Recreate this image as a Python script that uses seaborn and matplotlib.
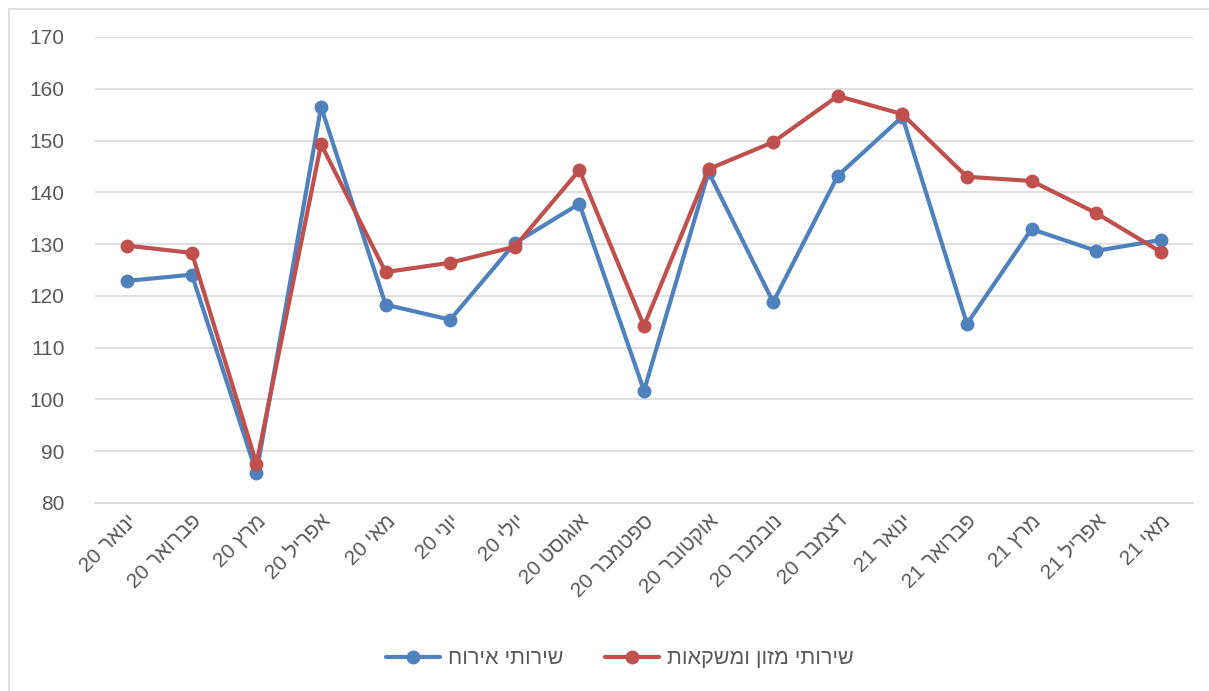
import re
import numpy as np
import pandas as pd
import matplotlib
matplotlib.use("Agg")
import matplotlib.pyplot as plt
from matplotlib.lines import Line2D
import seaborn as sns

months = ["ינואר 20", "פברואר 20", "מרץ 20", "אפריל 20", "מאי 20", "יוני 20",
          "יולי 20", "אוגוסט 20", "ספטמבר 20", "אוקטובר 20", "נובמבר 20",
          "דצמבר 20", "ינואר 21", "פברואר 21", "מרץ 21", "אפריל 21", "מאי 21"]
lodging = [122.9, 124.1, 85.8, 156.5, 118.3, 115.4, 130.2, 137.8, 101.7, 143.9,
           118.8, 143.2, 154.6, 114.6, 132.9, 128.7, 130.8]
food = [129.7, 128.3, 87.6, 149.3, 124.6, 126.4, 129.5, 144.3, 114.2, 144.5,
        149.7, 158.6, 155.1, 143.0, 142.2, 136.0, 128.5]
series_names = ["שירותי אירוח", "שירותי מזון ומשקאות"]
colors = ["#4F81BD", "#C0504D"]


def visual(s):
    """Simple bidi: reverse Hebrew string, keep digit runs in LTR order."""
    r = s[::-1]
    return re.sub(r"\d+", lambda m: m.group(0)[::-1], r)


sns.set_theme(style="white")
plt.rcParams["font.family"] = ["Liberation Sans", "DejaVu Sans"]

fig = plt.figure(figsize=(12.09, 6.91), dpi=100)
ax = fig.add_axes([95 / 1209, 1 - 503 / 691, (1193 - 95) / 1209, (503 - 37) / 691])

pos = np.arange(len(months))
df = pd.DataFrame({
    "pos": np.concatenate([pos, pos]),
    "value": lodging + food,
    "series": [visual(series_names[0])] * len(pos) + [visual(series_names[1])] * len(pos),
})

sns.lineplot(data=df, x="pos", y="value", hue="series",
             palette=colors, marker="o", markersize=10, linewidth=3,
             markeredgewidth=0, ax=ax, legend=False, zorder=3)

ax.set_xlim(-0.5, len(months) - 0.5)
ax.set_ylim(80, 170)
ax.set_yticks(np.arange(80, 171, 10))
ax.set_xticks(pos)
ax.set_xticklabels([visual(m) for m in months], rotation=45, ha="right",
                   rotation_mode="anchor", fontsize=15, color="#595959")
ax.tick_params(axis="y", labelsize=15, labelcolor="#595959", pad=22, length=0)
ax.tick_params(axis="x", pad=6, length=0)
ax.set_xlabel("")
ax.set_ylabel("")
ax.grid(axis="y", color="#D9D9D9", linewidth=1.2)
ax.grid(axis="x", visible=False)
for sp in ["top", "right", "left"]:
    ax.spines[sp].set_visible(False)
ax.spines["bottom"].set_color("#D9D9D9")
ax.spines["bottom"].set_linewidth(1.2)

handles = [Line2D([], [], color=c, linewidth=3, marker="o", markersize=10,
                  markeredgewidth=0) for c in colors]
fig.legend(handles, [visual(n) for n in series_names], loc="center",
           bbox_to_anchor=(620 / 1209, 1 - 659 / 691), ncol=2, frameon=False,
           fontsize=15.5, labelcolor="#595959", handlelength=2.5,
           columnspacing=1.9, handletextpad=0.4)

# chart border (left and top visible)
fig.add_artist(Line2D([9 / 1209, 9 / 1209], [0, 1 - 9 / 691],
                      transform=fig.transFigure, color="#D9D9D9", linewidth=1.2))
fig.add_artist(Line2D([9 / 1209, 1], [1 - 9 / 691, 1 - 9 / 691],
                      transform=fig.transFigure, color="#D9D9D9", linewidth=1.2))

fig.savefig("out.png", dpi=100)
